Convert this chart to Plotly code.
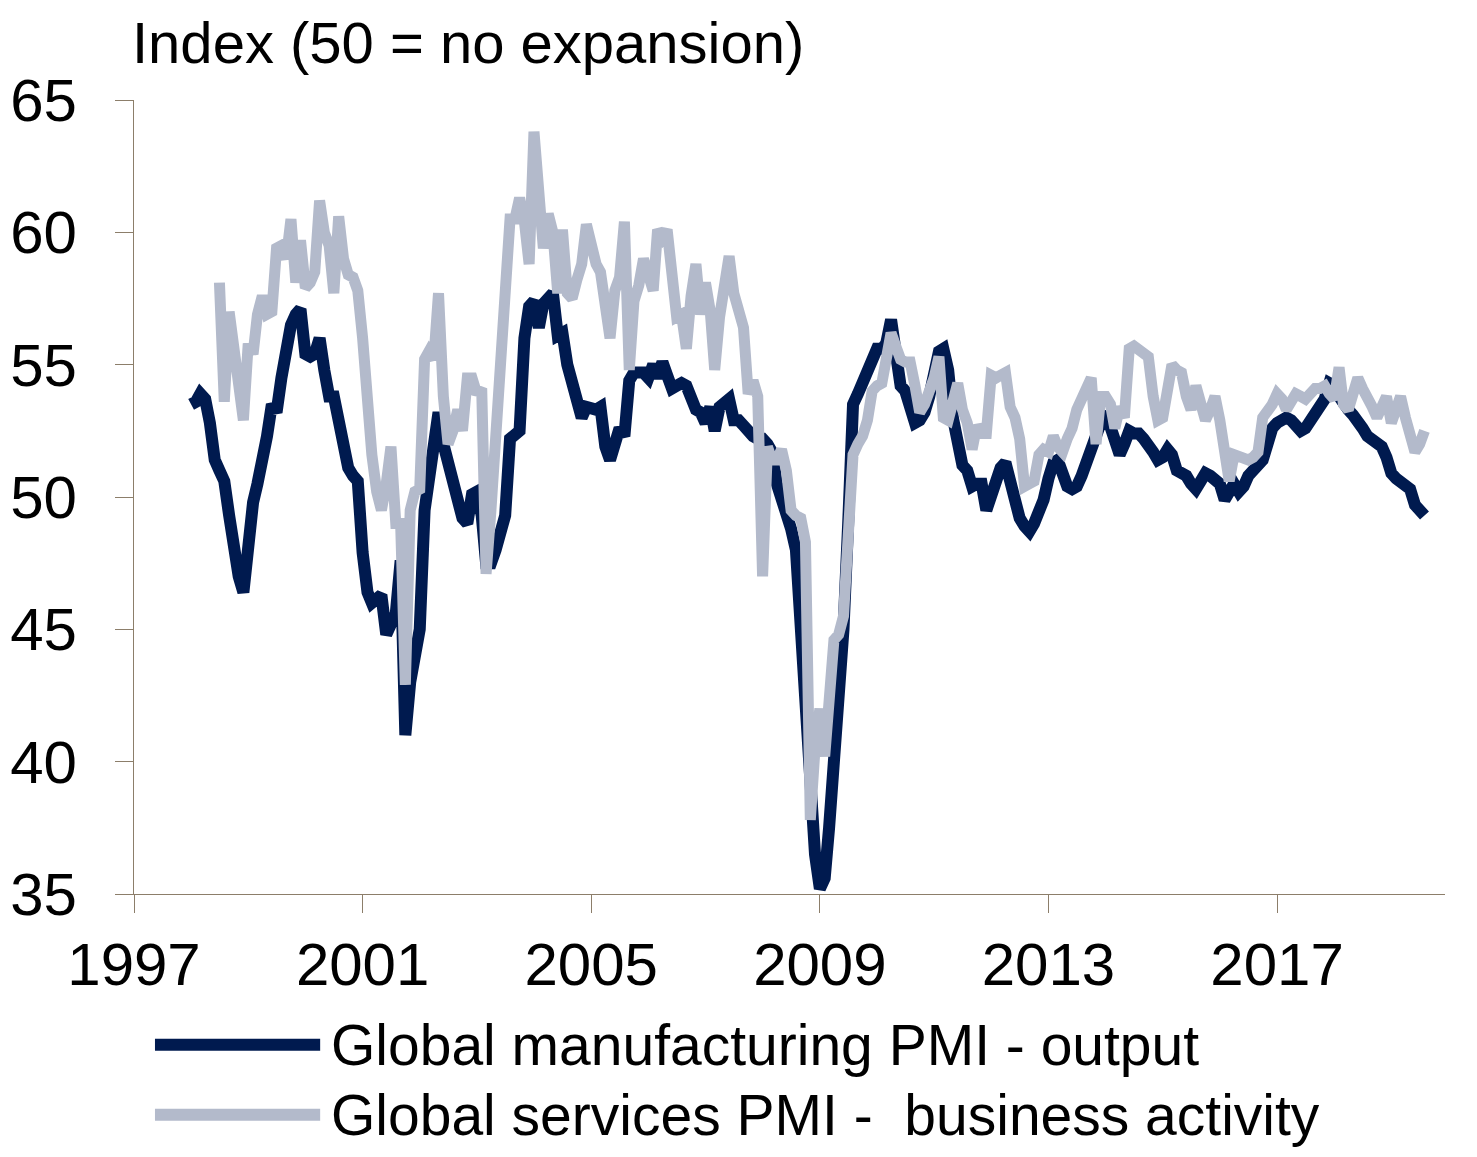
import plotly.graph_objects as go
import pandas as pd

# ---- Data (monthly) ----
# Global manufacturing PMI - output, Jan 1998 .. Aug 2019
mfg_1998 = [53.5, 53.6, 53.9, 53.7, 52.8, 51.4, 51.0, 50.6, 49.3, 48.0, 47.0, 46.4]
mfg_1999 = [48.3, 49.8, 50.5, 51.3, 52.3, 53.5, 53.2, 54.5, 55.7, 56.5, 56.9, 57.1]
mfg_2000 = [55.4, 55.3, 55.4, 56.0, 54.8, 53.8, 53.8, 52.7, 51.7, 51.1, 50.8, 50.6]
mfg_2001 = [47.9, 46.4, 46.0, 46.1, 46.3, 44.8, 45.3, 45.6, 47.6, 41.0, 43.0, 44.2]
mfg_2002 = [45.0, 49.5, 50.9, 52.3, 53.2, 52.0, 51.3, 50.6, 49.8, 49.2, 49.0, 50.1]
mfg_2003 = [50.2, 49.3, 47.5, 47.5, 48.0, 48.6, 49.3, 52.2, 52.4, 52.5, 56.0, 57.2]
mfg_2004 = [57.4, 56.4, 57.3, 57.6, 57.7, 56.1, 56.2, 55.0, 54.2, 53.6, 53.0, 53.4]
mfg_2005 = [53.3, 53.3, 53.4, 51.9, 51.4, 52.2, 52.6, 52.3, 54.4, 54.7, 54.7, 54.7]
mfg_2006 = [54.5, 55.0, 54.5, 55.1, 54.6, 54.1, 54.2, 54.3, 54.2, 53.6, 53.3, 53.2]
mfg_2007 = [52.8, 53.4, 52.5, 53.4, 53.6, 53.7, 52.9, 52.9, 52.7, 52.4, 52.3, 52.2]
mfg_2008 = [52.2, 52.0, 51.7, 50.5, 50.0, 49.3, 48.8, 48.0, 45.0, 42.5, 39.5, 36.5]
mfg_2009 = [35.2, 35.6, 37.5, 40.0, 42.3, 45.0, 49.0, 53.5, 53.9, 54.3, 54.6, 55.0]
mfg_2010 = [55.6, 55.6, 55.8, 56.7, 55.5, 54.2, 54.0, 53.2, 52.8, 52.9, 53.2, 53.8]
mfg_2011 = [54.6, 55.5, 55.6, 54.8, 53.0, 51.8, 51.2, 51.0, 50.4, 50.5, 50.5, 49.5]
mfg_2012 = [50.1, 50.8, 51.1, 51.3, 50.5, 49.8, 49.2, 48.9, 48.7, 49.0, 49.4, 49.9]
mfg_2013 = [50.7, 51.3, 51.4, 50.9, 50.4, 50.3, 50.4, 50.8, 51.4, 51.6, 52.2, 52.8]
mfg_2014 = [53.2, 52.5, 51.9, 51.6, 52.0, 52.5, 52.4, 52.4, 52.2, 52.0, 51.7, 51.4]
mfg_2015 = [51.5, 51.8, 51.6, 51.0, 50.9, 50.8, 50.5, 50.3, 50.6, 50.9, 50.8, 50.6]
mfg_2016 = [50.5, 49.9, 50.2, 50.5, 50.2, 50.4, 50.8, 51.0, 51.2, 51.4, 52.0, 52.6]
mfg_2017 = [52.8, 52.9, 53.0, 52.9, 52.6, 52.5, 52.6, 52.9, 53.2, 53.4, 53.7, 54.3]
mfg_2018 = [54.2, 53.8, 53.5, 53.3, 53.1, 52.9, 52.6, 52.3, 52.2, 52.0, 51.9, 51.5]
mfg_2019 = [50.9, 50.7, 50.6, 50.5, 50.3, 49.7, 49.4, 49.3]

# Global services PMI - business activity, Jul 1998 .. Aug 2019
svc_1998 = [58.1, 53.6, 57.0, 55.5, 54.0, 52.9]
svc_1999 = [55.8, 55.4, 56.9, 57.6, 56.9, 57.0, 59.4, 59.5, 59.0, 60.5, 58.1, 59.7]
svc_2000 = [57.9, 58.1, 58.5, 61.2, 60.0, 59.5, 57.7, 60.6, 59.0, 58.4, 58.3, 57.8]
svc_2001 = [56.0, 53.4, 51.6, 50.2, 49.5, 50.5, 51.9, 49.0, 49.0, 42.9, 49.5, 50.2]
svc_2002 = [50.3, 55.2, 55.5, 55.2, 57.7, 53.8, 52.0, 52.5, 53.3, 52.5, 54.5, 54.5]
svc_2003 = [53.9, 54.1, 47.1, 49.5, 52.0, 55.5, 58.5, 60.5, 60.5, 61.3, 60.4, 58.8]
svc_2004 = [63.8, 61.2, 59.4, 60.7, 60.0, 57.7, 60.1, 57.7, 57.5, 58.2, 58.8, 60.3]
svc_2005 = [59.4, 58.8, 58.5, 57.0, 56.0, 57.8, 58.3, 60.4, 54.8, 57.4, 58.0, 59.0]
svc_2006 = [58.5, 57.8, 60.1, 59.8, 60.1, 58.7, 56.8, 56.9, 55.6, 57.6, 58.8, 56.9]
svc_2007 = [58.1, 57.0, 54.8, 56.8, 58.0, 59.1, 57.7, 56.9, 56.4, 53.9, 54.4, 53.8]
svc_2008 = [47.0, 51.9, 51.4, 51.4, 51.8, 51.0, 49.5, 49.3, 49.2, 48.3, 37.8, 40.5]
svc_2009 = [42.0, 40.2, 42.0, 44.6, 44.8, 45.5, 48.5, 51.6, 52.0, 52.3, 52.9, 54.0]
svc_2010 = [54.2, 54.3, 55.2, 56.2, 55.7, 55.2, 55.1, 55.1, 54.2, 53.2, 53.5, 53.9]
svc_2011 = [54.5, 55.3, 53.0, 52.9, 53.5, 54.3, 53.3, 52.8, 51.8, 52.7, 52.4, 52.4]
svc_2012 = [54.6, 54.5, 54.6, 54.7, 53.4, 53.0, 52.2, 50.4, 50.5, 50.6, 51.6, 51.8]
svc_2013 = [51.7, 52.3, 51.9, 51.7, 52.2, 52.6, 53.3, 53.8, 54.2, 54.5, 52.0, 53.8]
svc_2014 = [53.8, 53.5, 52.6, 53.4, 53.0, 55.6, 55.7, 55.6, 55.5, 55.3, 53.8, 52.9]
svc_2015 = [53.0, 54.0, 55.0, 54.8, 54.7, 53.8, 53.3, 54.2, 53.5, 52.9, 53.3, 53.8]
svc_2016 = [52.9, 51.7, 50.6, 51.6, 51.5, 51.4, 51.4, 51.5, 51.7, 53.0, 53.2, 53.5]
svc_2017 = [53.9, 53.7, 53.3, 53.6, 53.9, 53.8, 53.7, 53.9, 54.1, 54.1, 54.2, 53.9]
svc_2018 = [53.7, 54.9, 53.5, 53.3, 54.0, 54.5, 54.1, 53.6, 53.4, 53.0, 53.5, 53.8]
svc_2019 = [52.8, 53.2, 53.8, 53.0, 52.2, 51.7, 52.0, 52.5]

mfg_values = (mfg_1998 + mfg_1999 + mfg_2000 + mfg_2001 + mfg_2002 + mfg_2003 + mfg_2004
              + mfg_2005 + mfg_2006 + mfg_2007 + mfg_2008 + mfg_2009 + mfg_2010 + mfg_2011
              + mfg_2012 + mfg_2013 + mfg_2014 + mfg_2015 + mfg_2016 + mfg_2017 + mfg_2018
              + mfg_2019)
svc_values = (svc_1998 + svc_1999 + svc_2000 + svc_2001 + svc_2002 + svc_2003 + svc_2004
              + svc_2005 + svc_2006 + svc_2007 + svc_2008 + svc_2009 + svc_2010 + svc_2011
              + svc_2012 + svc_2013 + svc_2014 + svc_2015 + svc_2016 + svc_2017 + svc_2018
              + svc_2019)

mfg_dates = pd.date_range("1998-01-01", periods=len(mfg_values), freq="MS")
svc_dates = pd.date_range("1998-07-01", periods=len(svc_values), freq="MS")

x_tick_labels = ["1997", "2001", "2005", "2009", "2013", "2017"]
y_tick_values = [35, 40, 45, 50, 55, 60, 65]

series_names = ["Global manufacturing PMI - output",
                "Global services PMI -\u00a0 business activity"]
title_text = "Index (50 = no expansion)"

NAVY = "#001A4F"
GREY = "#B3BACB"
AXIS = "#8C7E6A"
FONT = "Liberation Sans, Arial, sans-serif"

fig = go.Figure()
# manufacturing first, services drawn on top (as in the reference)
fig.add_trace(go.Scatter(x=mfg_dates, y=mfg_values, mode="lines", name=series_names[0],
                         line=dict(color=NAVY, width=12), showlegend=False))
fig.add_trace(go.Scatter(x=svc_dates, y=svc_values, mode="lines", name=series_names[1],
                         line=dict(color=GREY, width=11), showlegend=False))

axis_common = dict(showline=True, linecolor=AXIS, linewidth=1, ticks="outside",
                   ticklen=18, tickwidth=1, tickcolor=AXIS, showgrid=False,
                   zeroline=False, automargin=False,
                   tickfont=dict(family=FONT, size=60, color="black"))

# the page body adds an 8px margin, so the figure is 8px smaller and margins shifted
fig.update_layout(
    width=1469, height=1149,
    margin=dict(l=126, r=32, t=92, b=263),
    paper_bgcolor="white", plot_bgcolor="white",
    font=dict(family=FONT, color="black"),
    xaxis=dict(type="date", range=["1997-01-01", "2019-12-10"],
               tickvals=[f"{y}-01-01" for y in x_tick_labels], ticktext=x_tick_labels,
               ticklabelstandoff=0, **axis_common),
    yaxis=dict(range=[35, 65], tickvals=y_tick_values,
               ticklabelstandoff=26, **axis_common),
    showlegend=False,
)

# title annotation
fig.add_annotation(text=title_text, xref="paper", yref="paper", x=-0.003, y=1.072,
                   xanchor="left", yanchor="middle", showarrow=False,
                   font=dict(family=FONT, size=58, color="black"))

# custom legend (long line samples)
legend_rows = [(series_names[0], NAVY, -0.190), (series_names[1], GREY, -0.278)]
for name, color, yy in legend_rows:
    fig.add_shape(type="line", xref="paper", yref="paper", x0=0.016, x1=0.142,
                  y0=yy, y1=yy, line=dict(color=color, width=12))
    fig.add_annotation(text=name, xref="paper", yref="paper", x=0.149, y=yy,
                       xanchor="left", yanchor="middle", showarrow=False,
                       font=dict(family=FONT, size=57, color="black"))

fig.write_html("out.html")
